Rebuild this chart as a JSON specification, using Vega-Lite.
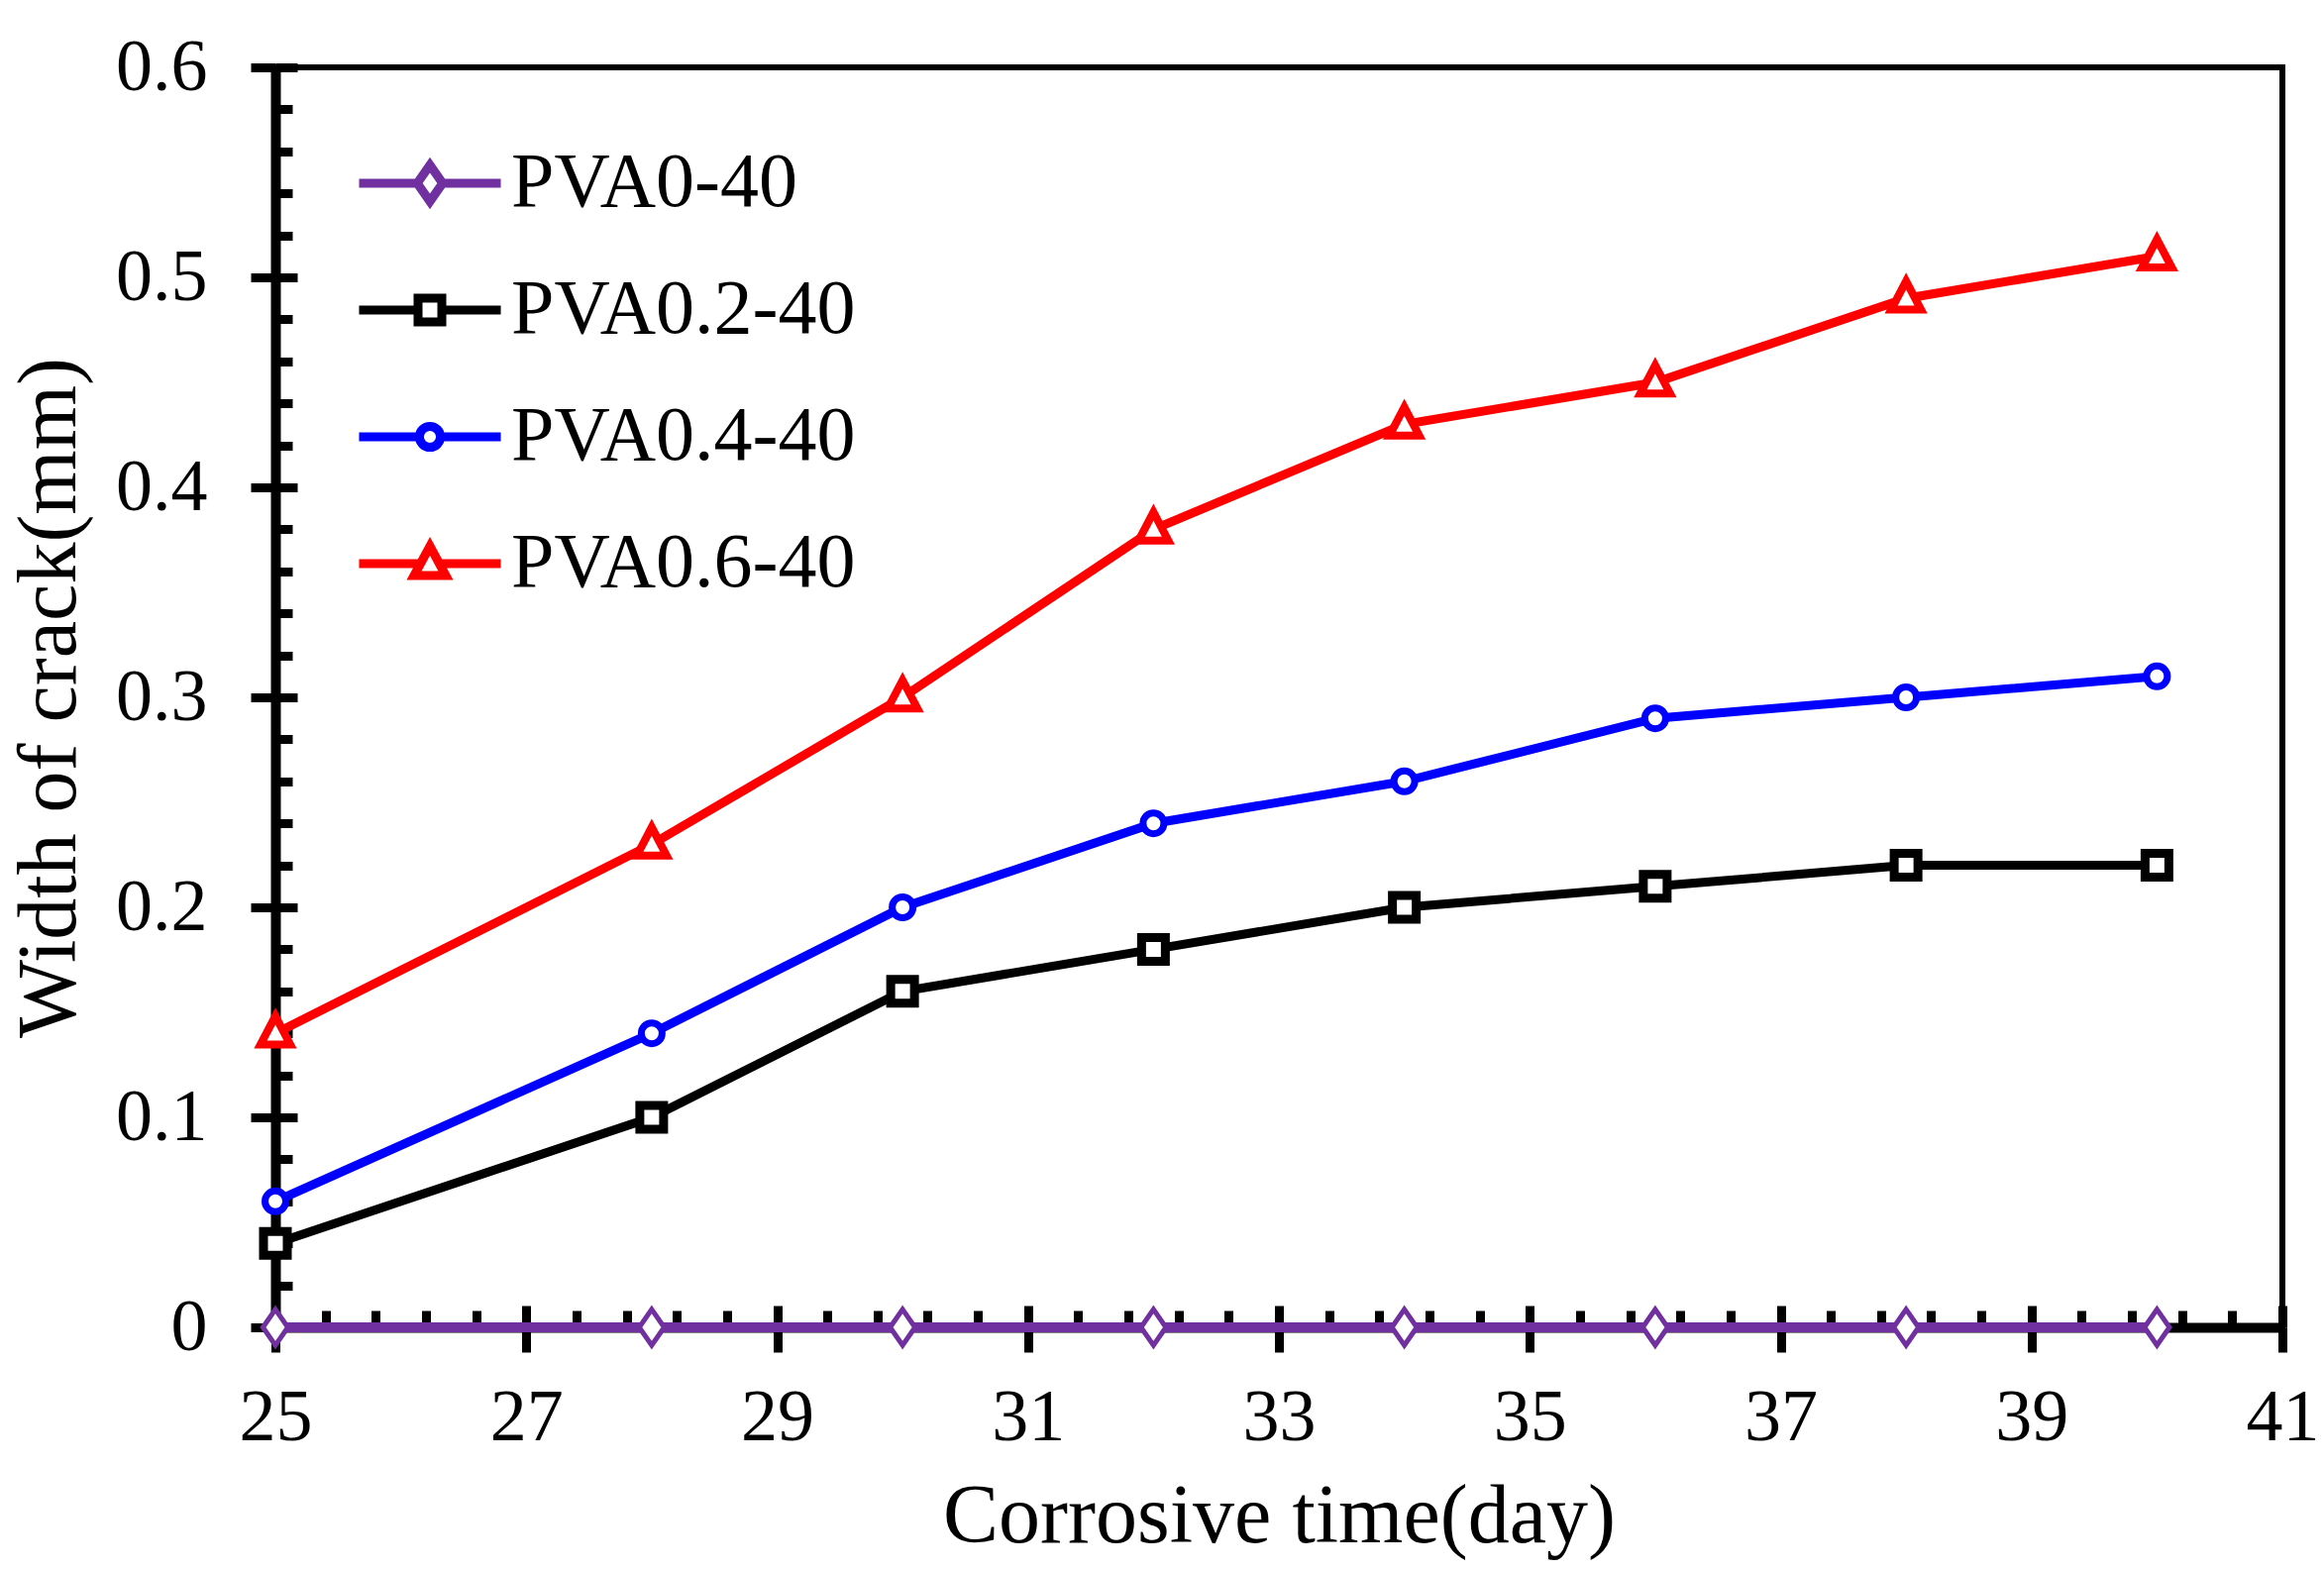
{
  "$schema": "https://vega.github.io/schema/vega-lite/v6.json",
  "width": 2026,
  "height": 1272,
  "autosize": {"type": "none"},
  "padding": {"left": 278, "top": 68, "right": 42, "bottom": 246},
  "background": "white",
  "config": {
    "view": {"stroke": "black", "strokeWidth": 6},
    "font": "Liberation Serif",
    "axis": {
      "grid": false,
      "domainColor": "black",
      "tickColor": "black",
      "labelColor": "black",
      "titleColor": "black",
      "labelFont": "Liberation Serif",
      "titleFont": "Liberation Serif",
      "titleFontWeight": "normal",
      "labelFlush": false,
      "labelOverlap": false
    },
    "legend": {
      "labelFont": "Liberation Serif",
      "labelFontSize": 78,
      "labelColor": "black",
      "labelLimit": 0,
      "symbolSize": 1024,
      "symbolStrokeWidth": 9,
      "symbolFillColor": "white",
      "labelOffset": 43,
      "rowPadding": 50,
      "symbolOffset": 0,
      "padding": 0
    }
  },
  "data": {
    "values": [
      {"day": 25, "width": 0, "series": "PVA0-40"},
      {"day": 28, "width": 0, "series": "PVA0-40"},
      {"day": 30, "width": 0, "series": "PVA0-40"},
      {"day": 32, "width": 0, "series": "PVA0-40"},
      {"day": 34, "width": 0, "series": "PVA0-40"},
      {"day": 36, "width": 0, "series": "PVA0-40"},
      {"day": 38, "width": 0, "series": "PVA0-40"},
      {"day": 40, "width": 0, "series": "PVA0-40"},
      {"day": 25, "width": 0.04, "series": "PVA0.2-40"},
      {"day": 28, "width": 0.10, "series": "PVA0.2-40"},
      {"day": 30, "width": 0.16, "series": "PVA0.2-40"},
      {"day": 32, "width": 0.18, "series": "PVA0.2-40"},
      {"day": 34, "width": 0.20, "series": "PVA0.2-40"},
      {"day": 36, "width": 0.21, "series": "PVA0.2-40"},
      {"day": 38, "width": 0.22, "series": "PVA0.2-40"},
      {"day": 40, "width": 0.22, "series": "PVA0.2-40"},
      {"day": 25, "width": 0.06, "series": "PVA0.4-40"},
      {"day": 28, "width": 0.14, "series": "PVA0.4-40"},
      {"day": 30, "width": 0.20, "series": "PVA0.4-40"},
      {"day": 32, "width": 0.24, "series": "PVA0.4-40"},
      {"day": 34, "width": 0.26, "series": "PVA0.4-40"},
      {"day": 36, "width": 0.29, "series": "PVA0.4-40"},
      {"day": 38, "width": 0.30, "series": "PVA0.4-40"},
      {"day": 40, "width": 0.31, "series": "PVA0.4-40"},
      {"day": 25, "width": 0.14, "series": "PVA0.6-40"},
      {"day": 28, "width": 0.23, "series": "PVA0.6-40"},
      {"day": 30, "width": 0.30, "series": "PVA0.6-40"},
      {"day": 32, "width": 0.38, "series": "PVA0.6-40"},
      {"day": 34, "width": 0.43, "series": "PVA0.6-40"},
      {"day": 36, "width": 0.45, "series": "PVA0.6-40"},
      {"day": 38, "width": 0.49, "series": "PVA0.6-40"},
      {"day": 40, "width": 0.51, "series": "PVA0.6-40"}
    ]
  },
  "layer": [
    {
      "transform": [{"filter": "datum.series == 'PVA0.2-40'"}],
      "mark": {"type": "line", "strokeWidth": 9, "color": "#000000"},
      "encoding": {
        "x": {
          "field": "day", "type": "quantitative",
          "scale": {"domain": [25, 41], "nice": false, "zero": false},
          "axis": {
            "orient": "bottom",
            "values": [25, 27, 29, 31, 33, 35, 37, 39, 41],
            "format": "d",
            "title": "Corrosive time(day)",
            "labelFontSize": 74,
            "titleFontSize": 84,
            "tickSize": 25,
            "tickWidth": 9,
            "domainWidth": 10,
            "labelPadding": 30,
            "titlePadding": 22
          }
        },
        "y": {
          "field": "width", "type": "quantitative",
          "scale": {"domain": [0, 0.6], "nice": false},
          "axis": {
            "orient": "left",
            "values": [0, 0.1, 0.2, 0.3, 0.4, 0.5, 0.6],
            "format": "~g",
            "title": "Width of crack(mm)",
            "labelFontSize": 74,
            "titleFontSize": 84,
            "tickSize": 25,
            "tickWidth": 9,
            "domainWidth": 10,
            "labelPadding": 44,
            "titlePadding": 23
          }
        }
      }
    },
    {
      "transform": [{"filter": "datum.series == 'PVA0.4-40'"}],
      "mark": {"type": "line", "strokeWidth": 9, "color": "#0000FF"},
      "encoding": {
        "x": {"field": "day", "type": "quantitative", "axis": null},
        "y": {"field": "width", "type": "quantitative", "axis": null}
      }
    },
    {
      "transform": [{"filter": "datum.series == 'PVA0.6-40'"}],
      "mark": {"type": "line", "strokeWidth": 9, "color": "#FF0000"},
      "encoding": {
        "x": {"field": "day", "type": "quantitative", "axis": null},
        "y": {"field": "width", "type": "quantitative", "axis": null}
      }
    },
    {
      "transform": [{"filter": "datum.series == 'PVA0-40'"}],
      "mark": {"type": "line", "strokeWidth": 10, "color": "#7030A0"},
      "encoding": {
        "x": {"field": "day", "type": "quantitative", "axis": null},
        "y": {"field": "width", "type": "quantitative", "axis": null}
      }
    },
    {
      "transform": [{"filter": "datum.series == 'PVA0-40'"}],
      "mark": {"type": "point", "shape": "M0,-1.3L0.9,0L0,1.3L-0.9,0Z", "size": 784, "filled": false, "fill": "white", "stroke": "#7030A0", "strokeWidth": 5, "opacity": 1},
      "encoding": {
        "x": {
          "field": "day", "type": "quantitative",
          "axis": {
            "orient": "bottom",
            "values": [25, 25.4, 25.8, 26.2, 26.6, 27, 27.4, 27.8, 28.2, 28.6, 29, 29.4, 29.8, 30.2, 30.6, 31, 31.4, 31.8, 32.2, 32.6, 33, 33.4, 33.8, 34.2, 34.6, 35, 35.4, 35.8, 36.2, 36.6, 37, 37.4, 37.8, 38.2, 38.6, 39, 39.4, 39.8, 40.2, 40.6, 41],
            "labels": false,
            "domain": false,
            "title": null,
            "tickWidth": 9,
            "tickSize": {"condition": {"test": "datum.value % 2 == 1", "value": -22}, "value": -17}
          }
        },
        "y": {
          "field": "width", "type": "quantitative",
          "axis": {
            "orient": "left",
            "values": [0, 0.02, 0.04, 0.06, 0.08, 0.1, 0.12, 0.14, 0.16, 0.18, 0.2, 0.22, 0.24, 0.26, 0.28, 0.3, 0.32, 0.34, 0.36, 0.38, 0.4, 0.42, 0.44, 0.46, 0.48, 0.5, 0.52, 0.54, 0.56, 0.58, 0.6],
            "labels": false,
            "domain": false,
            "title": null,
            "tickWidth": 9,
            "tickSize": {"condition": {"test": "abs(datum.value * 10 - round(datum.value * 10)) < 0.001", "value": -22}, "value": -17}
          }
        }
      }
    },
    {
      "transform": [{"filter": "datum.series == 'PVA0.2-40'"}],
      "mark": {"type": "point", "shape": "square", "size": 576, "filled": false, "fill": "white", "stroke": "#000000", "strokeWidth": 9, "opacity": 1},
      "encoding": {
        "x": {"field": "day", "type": "quantitative", "axis": null},
        "y": {"field": "width", "type": "quantitative", "axis": null}
      }
    },
    {
      "transform": [{"filter": "datum.series == 'PVA0.4-40'"}],
      "mark": {"type": "point", "shape": "circle", "size": 441, "filled": false, "fill": "white", "stroke": "#0000FF", "strokeWidth": 7, "opacity": 1},
      "encoding": {
        "x": {"field": "day", "type": "quantitative", "axis": null},
        "y": {"field": "width", "type": "quantitative", "axis": null}
      }
    },
    {
      "transform": [{"filter": "datum.series == 'PVA0.6-40'"}],
      "mark": {"type": "point", "shape": "M0,-1.15L1,0.75L-1,0.75Z", "size": 900, "filled": false, "fill": "white", "stroke": "#FF0000", "strokeWidth": 8, "opacity": 1},
      "encoding": {
        "x": {"field": "day", "type": "quantitative", "axis": null},
        "y": {"field": "width", "type": "quantitative", "axis": null}
      }
    },
    {
      "transform": [{"filter": "datum.day < 0"}],
      "mark": {"type": "point", "filled": false, "fill": "white", "strokeWidth": 9, "size": 1024, "opacity": 1},
      "encoding": {
        "x": {"field": "day", "type": "quantitative", "axis": null},
        "y": {"field": "width", "type": "quantitative", "axis": null},
        "color": {
          "field": "series", "type": "nominal",
          "scale": {
            "domain": ["PVA0-40", "PVA0.2-40", "PVA0.4-40", "PVA0.6-40"],
            "range": ["#7030A0", "#000000", "#0000FF", "#FF0000"]
          },
          "legend": {
            "title": null, "orient": "none", "legendX": 117, "legendY": 78,
            "encode": {"symbols": {"update": {"strokeWidth": {"signal": "datum.value == 'PVA0-40' ? 6 : 9"}}}}
          }
        },
        "shape": {
          "field": "series", "type": "nominal",
          "scale": {
            "domain": ["PVA0-40", "PVA0.2-40", "PVA0.4-40", "PVA0.6-40"],
            "range": [
              "M-4.47,0L-0.8,0M0.8,0L4.47,0M0,-1.15L0.8,0L0,1.15L-0.8,0Z",
              "M-4.47,0L-0.75,0M0.75,0L4.47,0M-0.75,-0.75L0.75,-0.75L0.75,0.75L-0.75,0.75Z",
              "M-4.47,0L-0.66,0M0.66,0L4.47,0M-0.66,0A0.66,0.66,0,1,0,0.66,0A0.66,0.66,0,1,0,-0.66,0Z",
              "M-4.47,0L-0.6,0M0.6,0L4.47,0M0,-1.1L1,0.75L-1,0.75Z"
            ]
          },
          "legend": {
            "title": null, "orient": "none", "legendX": 117, "legendY": 78,
            "encode": {"symbols": {"update": {"strokeWidth": {"signal": "datum.value == 'PVA0-40' ? 6 : 9"}}}}
          }
        }
      }
    }
  ],
  "resolve": {"axis": {"x": "independent", "y": "independent"}}
}
